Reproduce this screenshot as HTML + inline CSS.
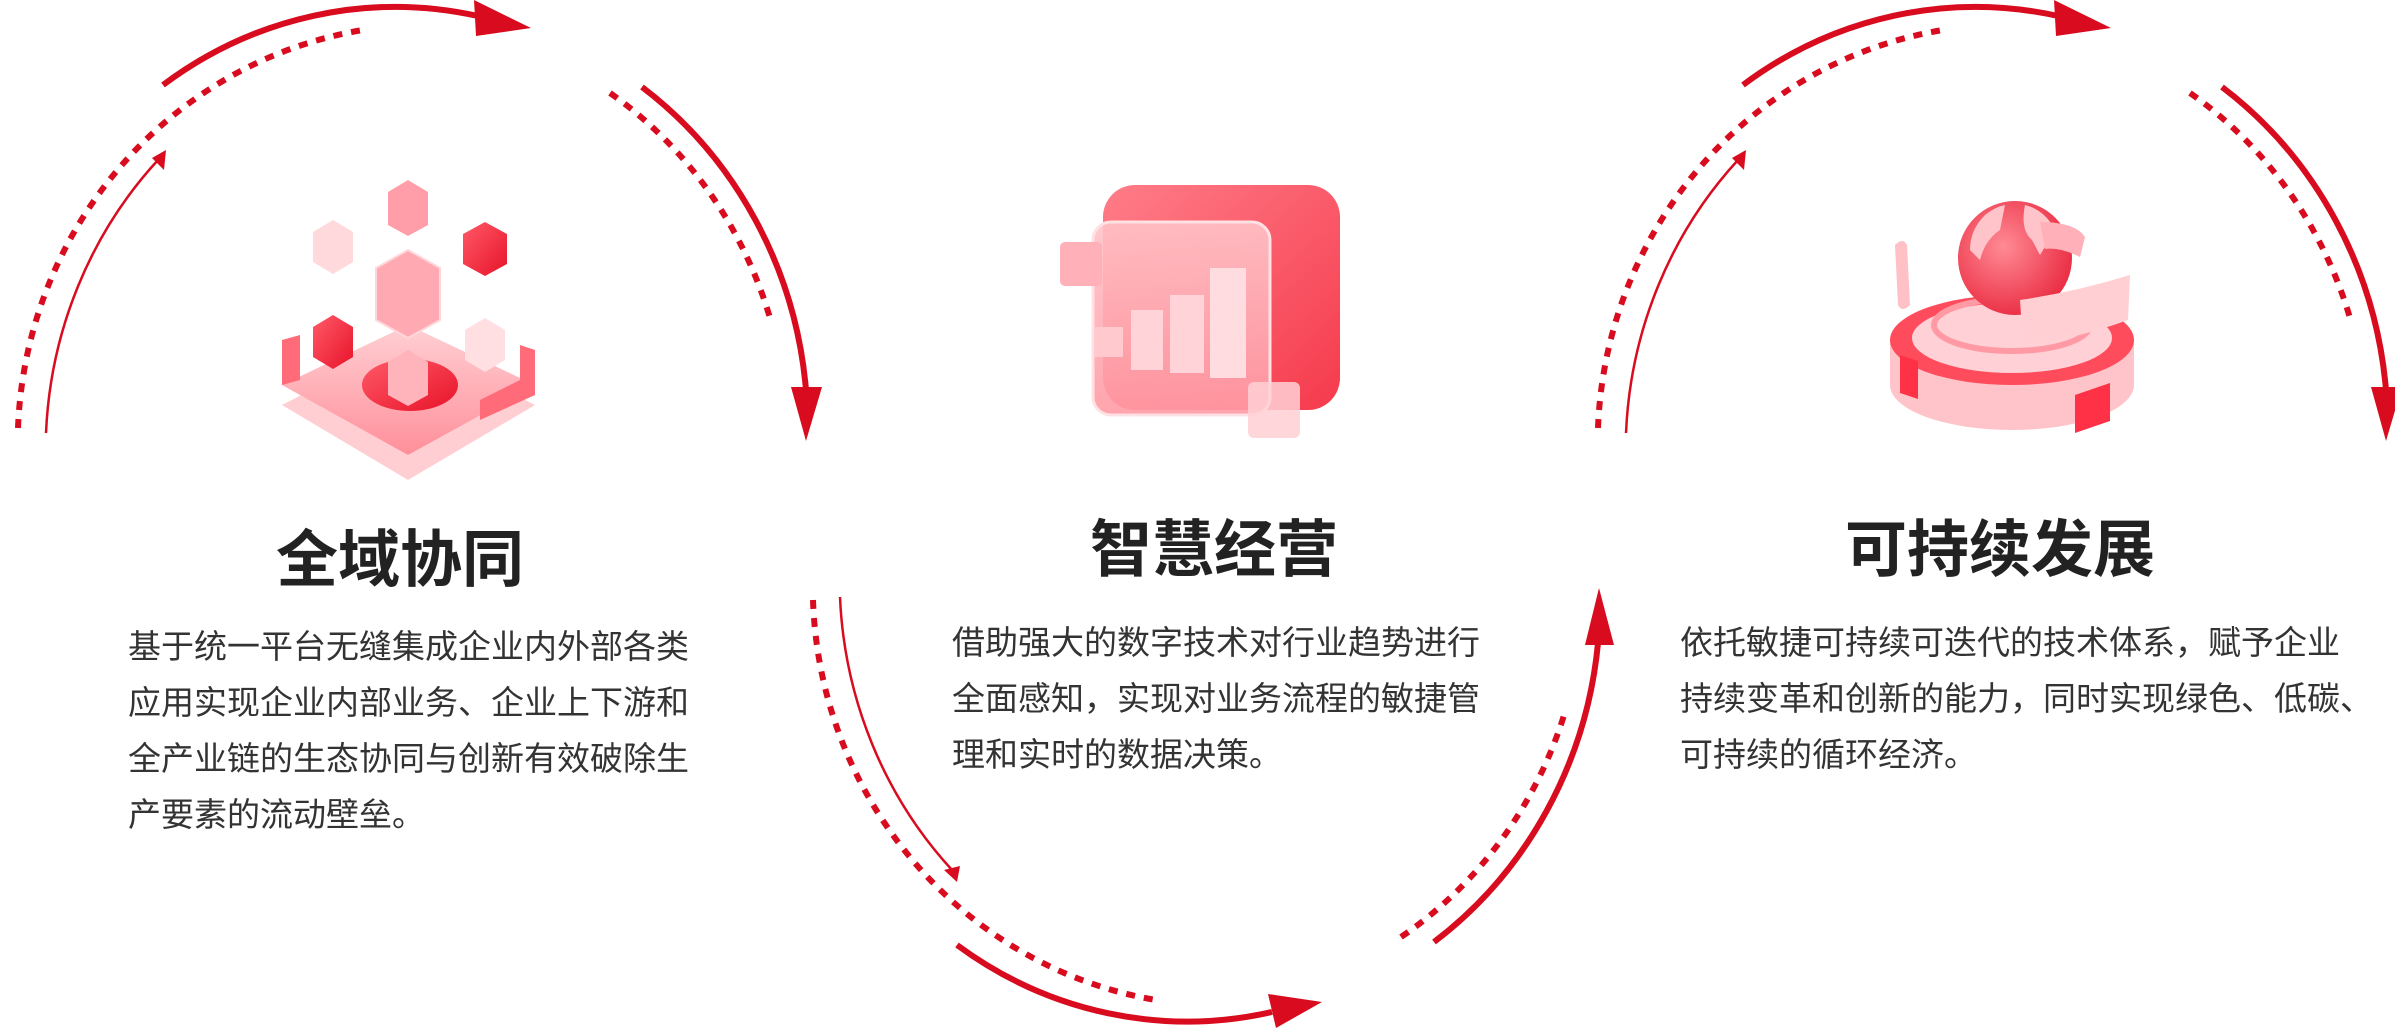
<!DOCTYPE html>
<html><head><meta charset="utf-8"><style>
html,body{margin:0;padding:0;background:#fff}
#w{position:relative;width:2395px;height:1030px;overflow:hidden;font-family:"Liberation Sans","Noto Sans CJK SC",sans-serif}
svg{position:absolute;left:0;top:0}
.t{position:absolute;font-weight:bold;font-size:62px;color:#222;white-space:nowrap;transform:translateX(-50%);line-height:1}
.b{position:absolute;font-size:33px;color:#333;line-height:56px;white-space:nowrap}
</style></head><body><div id="w">
<svg width="2395" height="1030" viewBox="0 0 2395 1030">
<defs>
<linearGradient id="pk" x1="0" y1="0" x2="0" y2="1"><stop offset="0" stop-color="#ffd0d4"/><stop offset="1" stop-color="#ff8f9a"/></linearGradient>
<linearGradient id="rd" x1="0" y1="0" x2="1" y2="1"><stop offset="0" stop-color="#ff5a68"/><stop offset="1" stop-color="#e8132a"/></linearGradient>
<linearGradient id="pn" x1="0" y1="0" x2="1" y2="1"><stop offset="0" stop-color="#ff7d88"/><stop offset="1" stop-color="#f53a4c"/></linearGradient>
<linearGradient id="fr" x1="0" y1="0" x2="0" y2="1"><stop offset="0" stop-color="#ffc3c8" stop-opacity=".9"/><stop offset="1" stop-color="#ff9aa4" stop-opacity=".9"/></linearGradient>
<radialGradient id="gl" cx=".4" cy=".4" r=".7"><stop offset="0" stop-color="#ff8a95"/><stop offset="1" stop-color="#e8243a"/></radialGradient>
</defs>
<g id="c1" fill="none" stroke="#d80c1e">
<path d="M163,85 A400,420 0 0 1 478,16" stroke-width="6"/>
<polygon points="474,0 531,28 476,36" fill="#d80c1e" stroke="none"/>
<path d="M642,87 A400,420 0 0 1 806,390" stroke-width="6"/>
<polygon points="791,387 822,387 806,441" fill="#d80c1e" stroke="none"/>
<path d="M46,433 A400,420 0 0 1 158,160" stroke-width="2.5"/>
<polygon points="152,158 166,150 164,170" fill="#d80c1e" stroke="none"/>
<path d="M18,428 A410,420 0 0 1 363,30" stroke-width="6" stroke-dasharray="9 9"/>
<path d="M610,93 A400,420 0 0 1 770,318" stroke-width="6" stroke-dasharray="9 9"/>
</g>
<use href="#c1" transform="translate(1580,0)"/>
<g fill="none" stroke="#d80c1e">
<path d="M840,597 A400,420 0 0 0 952,870" stroke-width="2.5"/>
<polygon points="944,870 960,866 957,882" fill="#d80c1e" stroke="none"/>
<path d="M813,600 A410,420 0 0 0 1156,1000" stroke-width="6" stroke-dasharray="9 9"/>
<path d="M957,945 A400,420 0 0 0 1272,1012" stroke-width="6"/>
<polygon points="1268,994 1322,1002 1276,1028" fill="#d80c1e" stroke="none"/>
<path d="M1401,937 A400,420 0 0 0 1565,712" stroke-width="6" stroke-dasharray="9 9"/>
<path d="M1434,942 A400,420 0 0 0 1598,643" stroke-width="6"/>
<polygon points="1585,645 1614,645 1599,588" fill="#d80c1e" stroke="none"/>
</g>
<!-- icon1 -->
<g>
<path d="M408,340 L535,405 L408,480 L282,405 Z" fill="#ffc2c8" opacity=".8"/>
<path d="M408,325 L535,385 L408,455 L282,385 Z" fill="url(#pk)"/>
<path d="M282,385 L282,340 L300,335 L300,380Z M520,345 L535,350 L535,395 L480,420 L480,400 L520,380Z" fill="#ff6b78"/>
<ellipse cx="410" cy="385" rx="48" ry="26" fill="url(#rd)"/>
<path d="M408,250 L440,268 L440,320 L408,338 L376,320 L376,268Z" fill="#ffaab2" stroke="#ffd6da" stroke-width="2"/>
<path d="M408,180 L428,192 L428,225 L408,236 L388,225 L388,192Z" fill="#ff9ea8"/>
<path d="M333,220 L353,232 L353,262 L333,274 L313,262 L313,232Z" fill="#ffd9dc"/>
<path d="M485,222 L507,234 L507,264 L485,276 L463,264 L463,234Z" fill="url(#rd)"/>
<path d="M333,315 L353,327 L353,357 L333,369 L313,357 L313,327Z" fill="url(#rd)"/>
<path d="M485,318 L505,330 L505,360 L485,372 L465,360 L465,330Z" fill="#ffdfe2"/>
<path d="M408,350 L428,362 L428,395 L408,406 L388,395 L388,362Z" fill="#ffb3ba"/>
</g>
<!-- icon2 -->
<g>
<rect x="1103" y="185" width="237" height="225" rx="32" fill="url(#pn)"/>
<rect x="1093" y="222" width="177" height="193" rx="18" fill="url(#fr)" stroke="#ffe0e3" stroke-width="3"/>
<rect x="1060" y="242" width="42" height="44" rx="5" fill="#ffb0b8"/>
<rect x="1095" y="327" width="28" height="30" fill="#ffc9ce"/>
<rect x="1131" y="310" width="32" height="60" fill="#ffd3d7"/>
<rect x="1170" y="295" width="34" height="78" fill="#ffd3d7"/>
<rect x="1210" y="268" width="36" height="110" fill="#ffdcdf"/>
<rect x="1248" y="382" width="52" height="56" rx="6" fill="#ffd0d5" opacity=".85"/>
</g>
<!-- icon3 -->
<g>
<ellipse cx="2012" cy="385" rx="122" ry="45" fill="#ffc4ca"/>
<rect x="1890" y="340" width="244" height="45" fill="#ffc4ca"/>
<ellipse cx="2012" cy="340" rx="122" ry="45" fill="#ff4c5c"/>
<ellipse cx="2012" cy="338" rx="100" ry="35" fill="#ffd0d5"/>
<ellipse cx="2012" cy="325" rx="78" ry="26" fill="none" stroke="#ff9aa4" stroke-width="6"/>
<circle cx="2015" cy="258" r="57" fill="url(#gl)"/>
<path d="M1985,215 q10,-8 20,-10 l-5,25 q-15,10 -20,30 l-10,-10 q0,-20 15,-35z M2025,205 q20,5 30,25 l-15,25 l-8,-15 q-12,-10 -7,-35z" fill="#ffc4ca"/>
<path d="M1895,245 q8,-8 12,0 l3,60 q-8,8 -12,0z" fill="#ffc0c6"/>
<path d="M2020,300 q55,-8 110,-25 l-2,45 q-55,20 -105,25z" fill="#ffcfd4"/>
<path d="M2040,222 q35,0 45,15 l-5,20 q-20,-10 -35,-8z" fill="#ffb0b8"/>
<path d="M1900,355 l0,38 l18,6 l0,-38z M2075,395 l0,38 l35,-12 l0,-38z" fill="#ff3146"/>
</g>
</svg>
<div class="t" style="left:400px;top:530px">全域协同</div>
<div class="t" style="left:1214px;top:520px">智慧经营</div>
<div class="t" style="left:2000px;top:520px">可持续发展</div>
<div class="b" style="left:128px;top:619px">基于统一平台无缝集成企业内外部各类<br>应用实现企业内部业务、企业上下游和<br>全产业链的生态协同与创新有效破除生<br>产要素的流动壁垒。</div>
<div class="b" style="left:952px;top:615px">借助强大的数字技术对行业趋势进行<br>全面感知，实现对业务流程的敏捷管<br>理和实时的数据决策。</div>
<div class="b" style="left:1680px;top:615px">依托敏捷可持续可迭代的技术体系，赋予企业<br>持续变革和创新的能力，同时实现绿色、低碳、<br>可持续的循环经济。</div>
</div></body></html>
